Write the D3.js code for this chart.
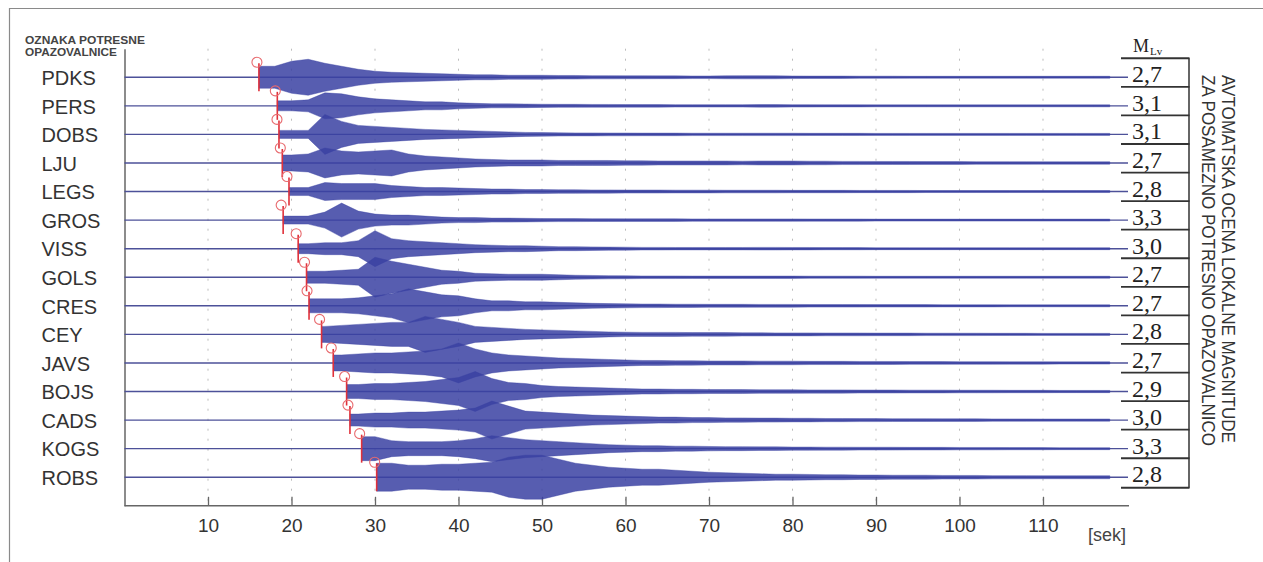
<!DOCTYPE html>
<html>
<head>
<meta charset="utf-8">
<script src="https://cdn.jsdelivr.net/npm/d3@7"></script>
<style>
  body { margin: 0; background: #fff; }
  svg { display: block; }
</style>
</head>
<body>
<script>
// postaje in ocene magnitude
const stations = ["PDKS", "PERS", "DOBS", "LJU", "LEGS", "GROS", "VISS", "GOLS",
    "CRES", "CEY", "JAVS", "BOJS", "CADS", "KOGS", "ROBS"];
const magnitudes = [2.7, 3.1, 3.1, 2.7, 2.8, 3.3, 3.0, 2.7, 2.7, 2.8, 2.7, 2.9, 3.0, 3.3, 2.8];

// prihod P valov [s]
const pArrivals = [16.1, 18.3, 18.5, 18.9, 19.7, 19.0, 20.8, 21.8, 22.1, 23.6, 25.0, 26.6, 27.0, 28.4, 30.2];

const xTicks = [10, 20, 30, 40, 50, 60, 70, 80, 90, 100, 110];

// casi vzorcev ovojnice [s]
const sampleTimes = [14, 16, 18, 20, 22, 24, 26, 28, 30, 32, 34, 36, 38, 40, 42, 44, 46, 48, 50, 52,
    54, 56, 58, 60, 62, 64, 66, 68, 70, 72, 74, 76, 78, 80, 82, 84, 86, 88, 90, 92,
    94, 96, 98, 100, 102, 104, 106, 108, 110, 112, 114, 116, 118];

// ovojnica amplitude za vsako postajo (odcitano s slike)
const ampPDKS = [0, 0, 11, 16, 18, 14, 11, 8, 6, 5, 4.5, 4, 3.5, 3, 2.5, 2.5, 2, 2, 2, 1.8, 1.8, 1.6, 1.6, 1.5,
    1.5, 1.4, 1.4, 1.3, 1.3, 1.5, 1.6, 1.6, 1.5, 1.3, 1.2, 1.2, 1.2, 1.1, 1.1, 1.1, 1, 1, 1, 1, 1, 1, 1, 1, 1, 1, 1, 1, 1];
const ampPERS = [0, 0, 0, 5, 6, 13, 12, 9, 7, 6, 5, 4, 4, 3, 2.5, 2, 2, 1.8, 1.6, 1.5, 1.5, 1.4, 1.4, 1.3,
    1.3, 1.3, 1.2, 1.2, 1.2, 1.2, 1.2, 1.3, 1.3, 1.2, 1.2, 1.1, 1.1, 1.1, 1, 1, 1, 1, 1, 1, 1, 1, 1, 1, 1, 1, 1, 1, 1];
const ampDOBS = [0, 0, 0, 4, 4, 20, 13, 9, 8, 7, 6, 5, 4.5, 4, 3.5, 3, 2.5, 2, 1.8, 1.6, 1.5, 1.5, 1.4, 1.4,
    1.3, 1.3, 1.3, 1.2, 1.2, 1.2, 1.2, 1.2, 1.2, 1.2, 1.1, 1.1, 1.1, 1.1, 1, 1, 1, 1, 1, 1, 1, 1, 1, 1, 1, 1, 1, 1, 1];
const ampLJU = [0, 0, 0, 8, 9, 15, 12, 11, 12, 13, 9, 7, 6, 5, 4, 3.5, 3, 3, 3, 2.5, 2.5, 2.5, 2.5, 2.2,
    2.2, 2, 2, 2, 2, 2, 1.8, 2, 2, 2, 1.8, 1.8, 1.6, 1.6, 1.5, 1.5, 1.5, 1.4, 1.4, 1.4, 1.3, 1.3, 1.3, 1.3, 1.2, 1.2, 1.2, 1.2, 1.2];
const ampLEGS = [0, 0, 0, 4, 4, 9, 8, 8, 8, 6, 5, 4, 4, 3.5, 3, 2.5, 2.5, 2, 2, 1.8, 1.8, 1.6, 1.6, 1.5,
    1.5, 1.5, 1.4, 1.4, 1.4, 1.3, 1.3, 1.3, 1.3, 1.2, 1.2, 1.2, 1.2, 1.1, 1.1, 1.1, 1.1, 1, 1, 1, 1, 1, 1, 1, 1, 1, 1, 1, 1];
const ampGROS = [0, 0, 0, 4, 4, 8, 17, 9, 6, 5, 5, 4, 3, 2.5, 2.5, 2, 2, 1.8, 1.6, 1.5, 1.5, 1.4, 1.4, 1.3,
    1.3, 1.3, 1.3, 1.2, 1.2, 1.2, 1.2, 1.2, 1.2, 1.2, 1.1, 1.1, 1.1, 1.1, 1, 1, 1, 1, 1, 1, 1, 1, 1, 1, 1, 1, 1, 1, 1];
const ampVISS = [0, 0, 0, 0, 5, 6, 6, 8, 18, 10, 8, 7, 6, 5, 4, 3.5, 3, 3, 2.5, 2, 2, 1.8, 1.6, 1.5,
    1.3, 1.3, 1.2, 1.2, 1.2, 1.2, 1.2, 1.3, 1.3, 1.2, 1.2, 1.1, 1.1, 1.1, 1, 1, 1, 1, 1, 1, 1, 1, 1, 1, 1, 1, 1, 1, 1];
const ampGOLS = [0, 0, 0, 0, 6, 6, 7, 8, 20, 16, 13, 10, 7, 6, 4, 3.5, 3, 3, 3, 2.5, 2, 1.8, 1.6, 1.5,
    1.3, 1.3, 1.3, 1.2, 1.2, 1.2, 1.2, 1.2, 1.2, 1.2, 1.1, 1.1, 1.1, 1.1, 1, 1, 1, 1, 1, 1, 1, 1, 1, 1, 1, 1, 1, 1, 1];
const ampCRES = [0, 0, 0, 0, 0, 7, 7, 8, 10, 12, 17, 14, 11, 10, 7, 5, 5, 4, 4, 3.5, 3, 2.5, 2.2, 2,
    1.8, 1.8, 1.6, 1.6, 1.5, 1.5, 1.5, 1.4, 1.4, 1.4, 1.3, 1.3, 1.3, 1.3, 1.2, 1.2, 1.2, 1.2, 1.1, 1.1, 1.1, 1.1, 1, 1, 1, 1, 1, 1, 1];
const ampCEY = [0, 0, 0, 0, 0, 8, 9, 10, 11, 12, 12, 18, 15, 12, 8, 7, 6, 5, 4.5, 4, 3.5, 3, 2.5, 2.2,
    2, 2, 2, 1.8, 1.8, 1.8, 1.6, 1.6, 1.5, 1.5, 1.5, 1.4, 1.4, 1.4, 1.3, 1.3, 1.3, 1.2, 1.2, 1.2, 1.2, 1.1, 1.1, 1.1, 1, 1, 1, 1, 1];
const ampJAVS = [0, 0, 0, 0, 0, 0, 8, 9, 10, 10, 11, 12, 14, 20, 14, 10, 8, 7, 6, 5, 4.5, 4, 3.5, 3,
    2.5, 2.5, 2.2, 2.2, 2, 2, 2, 1.8, 1.8, 1.8, 1.6, 1.6, 1.6, 1.5, 1.5, 1.5, 1.4, 1.4, 1.4, 1.3, 1.3, 1.3, 1.2, 1.2, 1.2, 1.1, 1.1, 1.1, 1.1];
const ampBOJS = [0, 0, 0, 0, 0, 0, 0, 7, 8, 8, 9, 10, 12, 14, 20, 13, 9, 8, 6, 5, 4.5, 4, 3.5, 3,
    2.5, 2.5, 2.2, 2.2, 2, 2, 2, 1.8, 1.8, 1.8, 1.6, 1.6, 1.6, 1.5, 1.5, 1.5, 1.4, 1.4, 1.4, 1.3, 1.3, 1.3, 1.2, 1.2, 1.2, 1.1, 1.1, 1.1, 1.1];
const ampCADS = [0, 0, 0, 0, 0, 0, 0, 6, 7, 7, 8, 8, 9, 10, 12, 19, 14, 9, 8, 7, 6, 5, 4.5, 4,
    3.5, 3, 3, 2.5, 2.5, 2.2, 2.2, 2, 2, 1.8, 1.8, 1.6, 1.6, 1.5, 1.5, 1.4, 1.4, 1.4, 1.3, 1.3, 1.3, 1.2, 1.2, 1.2, 1.1, 1.1, 1.1, 1.1, 1.1];
const ampKOGS = [0, 0, 0, 0, 0, 0, 0, 0, 12, 8, 7, 7, 7, 8, 10, 13, 11, 9, 8, 7, 6, 5, 4, 3.5,
    3, 3, 2.5, 2.5, 2.2, 2, 2, 1.8, 1.8, 1.6, 1.6, 1.5, 1.5, 1.4, 1.4, 1.4, 1.3, 1.3, 1.3, 1.2, 1.2, 1.2, 1.1, 1.1, 1.1, 1, 1, 1, 1];
const ampROBS = [0, 0, 0, 0, 0, 0, 0, 0, 0, 14, 12, 12, 13, 13, 14, 15, 20, 22, 22, 18, 14, 12, 10, 9,
    8, 8, 7, 6, 5, 4.5, 4, 3.5, 3, 3, 2.8, 2.5, 2.5, 2.2, 2.2, 2, 2, 2, 1.8, 1.8, 1.8, 1.6, 1.6, 1.6, 1.5, 1.5, 1.5, 1.5, 1.5];

const amplitudes = [ampPDKS, ampPERS, ampDOBS, ampLJU, ampLEGS, ampGROS, ampVISS, ampGOLS,
    ampCRES, ampCEY, ampJAVS, ampBOJS, ampCADS, ampKOGS, ampROBS];

// barve
const colors = {
    wave: "#3a41a2",
    base: "#4d5199",
    pick: "#e0313a",
    pickCircle: "#e86a6e",
    text: "#333333",
    axis: "#666666",
    grid: "#bdbdbd"
};

const width = 1263, height = 562;

const svg = d3.select("body").append("svg")
    .attr("width", width)
    .attr("height", height);

// okvir slike
svg.append("line").attr("x1", 9).attr("x2", width).attr("y1", 8.5).attr("y2", 8.5)
    .attr("stroke", "#8a8a8a").attr("stroke-width", 1);
svg.append("line").attr("x1", 9.5).attr("x2", 9.5).attr("y1", 8).attr("y2", height)
    .attr("stroke", "#8a8a8a").attr("stroke-width", 1.2);

// lestvice
const x = d3.scaleLinear().domain([0, 120]).range([124.5, 1126.5]);
const y = d3.scaleLinear().domain([0, 16]).range([48.7, 505.8]);
const amp = d3.scaleLinear().domain([0, 20]).range([0, 20]);
const traceEnd = 1128;

// mreza (pikcaste navpicne crte)
svg.append("g")
    .selectAll("line")
    .data(xTicks)
    .enter().append("line")
    .attr("x1", d => x(d)).attr("x2", d => x(d))
    .attr("y1", y(0)).attr("y2", y(16))
    .attr("stroke", colors.grid)
    .attr("stroke-width", 1)
    .attr("stroke-dasharray", "2,8");

// os x
const xAxis = svg.append("g")
    .attr("transform", `translate(0,${y(16)})`)
    .call(d3.axisBottom(x).tickValues(xTicks).tickSizeInner(-9).tickSizeOuter(0).tickFormat(d3.format("d")));
xAxis.select(".domain").attr("stroke", colors.axis).attr("stroke-width", 1.5)
    .attr("d", `M${x(0)},0H1129`);
xAxis.selectAll(".tick line").attr("stroke", colors.axis).attr("stroke-width", 1.3);
xAxis.selectAll("text")
    .attr("y", 26.5).attr("dy", null)
    .attr("fill", colors.text)
    .style("font-family", "'Liberation Sans', Arial, sans-serif")
    .style("font-size", "19px");

// os y z oznakami postaj
const yAxis = svg.append("g")
    .attr("transform", `translate(${x(0)},0)`)
    .call(d3.axisLeft(y).tickValues(stations.map((s, i) => i + 1)).tickSize(0)
        .tickFormat(i => stations[i - 1]));
yAxis.select(".domain").attr("stroke", colors.axis).attr("stroke-width", 1.5);
yAxis.selectAll("text")
    .attr("x", 41.5 - x(0))
    .attr("dy", "0.36em")
    .attr("text-anchor", "start")
    .attr("fill", colors.text)
    .style("font-family", "'Liberation Sans', Arial, sans-serif")
    .style("font-size", "20px");

// naslov osi y
const yTitle = svg.append("g")
    .attr("fill", "#444")
    .style("font-family", "'Liberation Sans', Arial, sans-serif")
    .style("font-size", "10px")
    .style("font-weight", "bold");
yTitle.append("text").attr("x", 25).attr("y", 43.5)
    .attr("textLength", 120).attr("lengthAdjust", "spacingAndGlyphs").text("OZNAKA POTRESNE");
yTitle.append("text").attr("x", 25).attr("y", 56)
    .attr("textLength", 92).attr("lengthAdjust", "spacingAndGlyphs").text("OPAZOVALNICE");

// seizmogrami (ovojnica kot ploskev)
const area = d3.area()
    .x(d => x(d.t))
    .y0(d => d.base + amp(d.a))
    .y1(d => d.base - amp(d.a));

const traces = svg.append("g");
stations.forEach((name, i) => {
    const base = y(i + 1);
    const p = pArrivals[i];

    traces.append("line")
        .attr("x1", x(0)).attr("x2", traceEnd)
        .attr("y1", base).attr("y2", base)
        .attr("stroke", colors.base)
        .attr("stroke-width", 1.4);

    const pts = sampleTimes
        .map((t, k) => ({ t: t, a: amplitudes[i][k], base: base }))
        .filter(d => d.t > p);
    pts.unshift({ t: p, a: pts[0].a, base: base });

    traces.append("path")
        .datum(pts)
        .attr("d", area)
        .attr("fill", colors.wave)
        .attr("fill-opacity", 0.85)
        .attr("stroke", colors.wave)
        .attr("stroke-width", 0.4)
        .attr("stroke-linejoin", "round");
});

// oznake prihoda P valov
const picks = svg.append("g")
    .selectAll("g")
    .data(pArrivals)
    .enter().append("g");
picks.append("line")
    .attr("x1", d => x(d)).attr("x2", d => x(d))
    .attr("y1", (d, i) => y(i + 1) - 14)
    .attr("y2", (d, i) => y(i + 1) + 14)
    .attr("stroke", colors.pick)
    .attr("stroke-width", 1.6);
picks.append("circle")
    .attr("cx", d => x(d) - 2)
    .attr("cy", (d, i) => y(i + 1) - 15)
    .attr("r", 5)
    .attr("fill", "none")
    .attr("stroke", colors.pickCircle)
    .attr("stroke-width", 1.1);

// tabela magnitud
const locale = d3.formatLocale({ decimal: ",", thousands: ".", grouping: [3], currency: ["", ""] });
const fmt = locale.format(".1f");
const table = svg.append("g")
    .style("font-family", "'Liberation Serif', 'Times New Roman', serif")
    .attr("fill", "#222");

table.append("text").attr("x", 1133).attr("y", 52)
    .style("font-size", "18px").text("M");
table.append("text").attr("x", 1150).attr("y", 55)
    .style("font-size", "11px").text("Lv");

table.selectAll("text.mag")
    .data(magnitudes)
    .enter().append("text")
    .attr("class", "mag")
    .attr("x", 1132)
    .attr("y", (d, i) => y(i + 1) + 5)
    .style("font-size", "24px")
    .text(d => fmt(d));

const rowLines = magnitudes.map((d, i) => y(i + 1) - 19);
rowLines.push(y(magnitudes.length) + 10.5);
table.selectAll("line.row")
    .data(rowLines)
    .enter().append("line")
    .attr("class", "row")
    .attr("x1", 1121).attr("x2", 1189.5)
    .attr("y1", d => d).attr("y2", d => d)
    .attr("stroke", "#333")
    .attr("stroke-width", 1.8);
table.append("line")
    .attr("x1", 1189).attr("x2", 1189)
    .attr("y1", rowLines[0]).attr("y2", rowLines[rowLines.length - 1])
    .attr("stroke", "#333")
    .attr("stroke-width", 1.5);

// navpicni opis na desni
const side = svg.append("g")
    .attr("fill", "#333")
    .style("font-family", "'Liberation Sans', Arial, sans-serif")
    .style("font-size", "18px");
side.append("text")
    .attr("transform", "translate(1222,75) rotate(90)")
    .attr("textLength", 368).attr("lengthAdjust", "spacingAndGlyphs")
    .text("AVTOMATSKA OCENA LOKALNE MAGNITUDE");
side.append("text")
    .attr("transform", "translate(1202,75) rotate(90)")
    .attr("textLength", 371).attr("lengthAdjust", "spacingAndGlyphs")
    .text("ZA POSAMEZNO POTRESNO OPAZOVALNICO");

// enota casa
svg.append("text")
    .attr("x", 1088).attr("y", 541)
    .attr("fill", "#444")
    .style("font-family", "'Liberation Sans', Arial, sans-serif")
    .style("font-size", "18px")
    .text("[sek]");
</script>
</body>
</html>
